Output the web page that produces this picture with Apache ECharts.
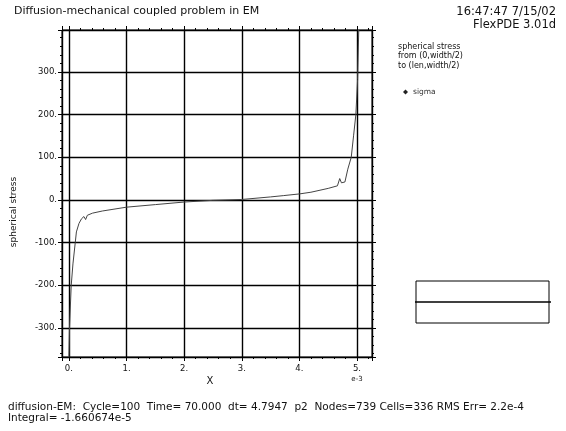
<!DOCTYPE html>
<html lang="en">
<head>
    <meta charset="UTF-8">
    <title>Diffusion-mechanical coupled problem in EM</title>
    <script src="https://cdn.jsdelivr.net/npm/echarts@6.0.0/dist/echarts.min.js"></script>
    <style>
        html, body { margin: 0; padding: 0; background: #fff; }
    </style>
</head>
<body>
<div id="main" style="width: 566px;height:431px;"></div>

<script type="text/javascript">
    // position along the cut, units of 1e-3
    var xPos = [0.0, 0.01, 0.04, 0.07, 0.11, 0.13, 0.175, 0.22, 0.26, 0.29, 0.32, 0.41, 0.58,
        1.0, 1.5, 2.0, 2.5, 3.0, 3.5, 3.72, 4.0, 4.2, 4.5, 4.66, 4.70, 4.73, 4.79,
        4.84, 4.90, 4.94, 4.98, 5.01, 5.03];
    // spherical stress (sigma)
    var sigma = [-368, -300, -200, -150, -100, -75, -55, -44, -39, -46, -36, -31, -26,
        -17, -11, -5, -1, 1, 7, 10, 14, 18, 27, 33, 50, 40, 42,
        72, 100, 150, 200, 282, 398];
    // little cut-line sketch in the lower right box
    var cutX = [-0.02, 1.02];
    var cutY = [0.5, 0.5];

    var FONT = '"DejaVu Sans", Verdana, sans-serif';

    var myChart = echarts.init(document.getElementById('main'));

    var pts = xPos.map(function (x, i) { return [x, sigma[i]]; });
    var cutPts = cutX.map(function (x, i) { return [x, cutY[i]]; });

    var frameAxis = {
        axisLine: { show: true, onZero: false, lineStyle: { color: '#000', width: 1 } },
        axisTick: { show: true, inside: false, length: 4, lineStyle: { color: '#000' } },
        minorTick: { show: true, splitNumber: 5, length: 2, lineStyle: { color: '#000' } },
        splitLine: { show: false }
    };

    var option = {
        animation: false,
        backgroundColor: '#fff',
        textStyle: { fontFamily: FONT },
        grid: [
            { left: 62, right: 194, top: 30, bottom: 74, show: true, borderColor: '#000', borderWidth: 1 },
            { left: 416, top: 281, width: 133, height: 42, show: true, borderColor: '#000', borderWidth: 1 }
        ],
        legend: {
            left: 398, top: 83,
            icon: 'diamond', itemWidth: 5, itemHeight: 5, itemGap: 2,
            textStyle: { fontSize: 7.5, color: '#333', fontFamily: FONT },
            data: ['sigma']
        },
        xAxis: [
            Object.assign({}, frameAxis, {
                type: 'value', gridIndex: 0, position: 'bottom', min: -0.12, max: 5.26, splitNumber: 5,
                splitLine: { show: true, lineStyle: { color: '#000', width: 1.4 } },
                axisLabel: {
                    show: true, showMinLabel: false, showMaxLabel: false, margin: 7,
                    fontSize: 8.5, color: '#111', fontFamily: FONT,
                    formatter: function (v) { return v + '.'; }
                }
            }),
            Object.assign({}, frameAxis, {
                type: 'value', gridIndex: 0, position: 'top', min: -0.12, max: 5.26, splitNumber: 5,
                axisLabel: { show: false }
            }),
            {
                type: 'value', gridIndex: 1, min: 0, max: 1, show: false
            }
        ],
        yAxis: [
            Object.assign({}, frameAxis, {
                type: 'value', gridIndex: 0, position: 'left', min: -368, max: 398, splitNumber: 8,
                splitLine: { show: true, lineStyle: { color: '#000', width: 1.4 } },
                axisLabel: {
                    show: true, showMinLabel: false, showMaxLabel: false, margin: 5,
                    fontSize: 8.5, color: '#111', fontFamily: FONT,
                    formatter: function (v) { return v + '.'; }
                }
            }),
            Object.assign({}, frameAxis, {
                type: 'value', gridIndex: 0, position: 'right', min: -368, max: 398, splitNumber: 8,
                axisLabel: { show: false }
            }),
            {
                type: 'value', gridIndex: 1, min: 0, max: 1, show: false
            }
        ],
        series: [
            {
                name: 'sigma',
                type: 'line',
                xAxisIndex: 0,
                yAxisIndex: 0,
                data: pts,
                showSymbol: false,
                itemStyle: { color: '#222' },
                lineStyle: { color: '#444', width: 1 }
            },
            {
                type: 'line',
                xAxisIndex: 2,
                yAxisIndex: 2,
                data: cutPts,
                showSymbol: false,
                clip: false,
                silent: true,
                lineStyle: { color: '#000', width: 1.3 }
            }
        ],
        graphic: [
            { type: 'text', left: 14, top: 6, style: { text: 'Diffusion-mechanical coupled problem in EM', font: '11px ' + FONT, fill: '#111' } },
            { type: 'text', right: 10, top: 6, style: { text: '16:47:47 7/15/02', font: '11.5px ' + FONT, fill: '#111' } },
            { type: 'text', right: 10, top: 19, style: { text: 'FlexPDE 3.01d', font: '11.5px ' + FONT, fill: '#111' } },
            { type: 'text', left: 398, top: 42, style: { text: 'spherical stress\nfrom (0,width/2)\nto (len,width/2)', font: '8px ' + FONT, fill: '#111', lineHeight: 9.5 } },
            { type: 'text', x: 14, y: 212, rotation: Math.PI / 2, style: { text: 'spherical stress', font: '9px ' + FONT, fill: '#111', align: 'center', verticalAlign: 'middle' } },
            { type: 'text', x: 210, y: 381, style: { text: 'X', font: '10px ' + FONT, fill: '#111', align: 'center', verticalAlign: 'middle' } },
            { type: 'text', x: 357, y: 379, style: { text: 'e-3', font: '7px ' + FONT, fill: '#111', align: 'center', verticalAlign: 'middle' } },
            { type: 'text', left: 8, top: 402, style: { text: 'diffusion-EM:  Cycle=100  Time= 70.000  dt= 4.7947  p2  Nodes=739 Cells=336 RMS Err= 2.2e-4\nIntegral= -1.660674e-5', font: '10.5px ' + FONT, fill: '#111', lineHeight: 10.5 } }
        ]
    };

    myChart.setOption(option);
</script>
</body>
</html>
